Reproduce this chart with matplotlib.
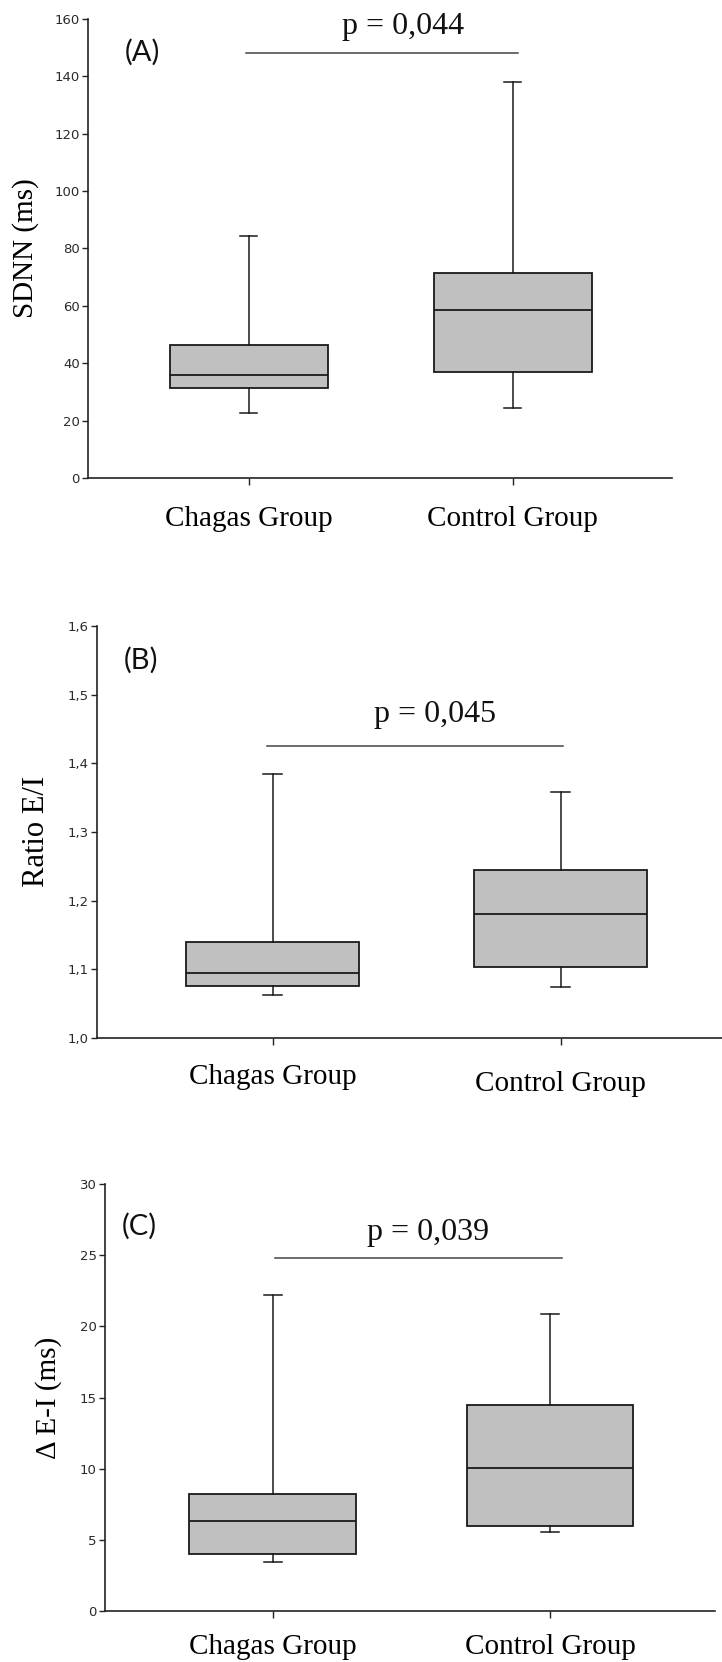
import matplotlib
matplotlib.use("Agg")
import matplotlib.pyplot as plt
from matplotlib.ticker import FuncFormatter, MultipleLocator

groups = ["Chagas Group", "Control Group"]

# (A) SDNN
sdnn_lo = [22.6, 24.3]
sdnn_q1 = [31.5, 36.9]
sdnn_med = [35.9, 58.5]
sdnn_q3 = [46.4, 71.6]
sdnn_hi = [84.4, 137.9]

# (B) ratio E/I
ratio_lo = [1.063, 1.074]
ratio_q1 = [1.076, 1.104]
ratio_med = [1.095, 1.180]
ratio_q3 = [1.139, 1.245]
ratio_hi = [1.384, 1.358]

# (C) delta E-I
delta_lo = [3.45, 5.56]
delta_q1 = [4.03, 6.02]
delta_med = [6.37, 10.04]
delta_q3 = [8.26, 14.5]
delta_hi = [22.2, 20.87]

p_texts = ["p = 0,044", "p = 0,045", "p = 0,039"]
panel_tags = ["(A)", "(B)", "(C)"]
ylabels = ["SDNN (ms)", "Ratio E/I", "\u0394 E-I (ms)"]

SERIF = "Liberation Serif"
DARK = "#1a1a1a"

fig = plt.figure(figsize=(7.22, 16.62), dpi=100)


def draw_panel(rect, lo, q1, med, q3, hi, ylim, ystep, xlim, fmt,
               tag, tag_xy, ptxt, p_xy, line_x, line_y, ylab, ylab_x, ylab_size, xpad):
    ax = fig.add_axes(rect)
    stats = []
    for i in range(len(groups)):
        stats.append({"whislo": lo[i], "q1": q1[i], "med": med[i],
                      "q3": q3[i], "whishi": hi[i], "fliers": []})
    ax.bxp(stats, positions=[1, 2], widths=0.6, patch_artist=True,
           capwidths=0.065, showfliers=False,
           boxprops=dict(facecolor="#c0c0c0", edgecolor=DARK, linewidth=1.3),
           medianprops=dict(color=DARK, linewidth=1.3),
           whiskerprops=dict(color=DARK, linewidth=1.1),
           capprops=dict(color=DARK, linewidth=1.1))
    ax.set_xlim(*xlim)
    ax.set_ylim(*ylim)
    ax.yaxis.set_major_locator(MultipleLocator(ystep))
    ax.yaxis.set_major_formatter(FuncFormatter(fmt))
    ax.set_xticks([1, 2])
    ax.set_xticklabels(groups, fontfamily=SERIF, fontsize=21)
    for s in ["top", "right"]:
        ax.spines[s].set_visible(False)
    for s in ["left", "bottom"]:
        ax.spines[s].set_linewidth(1.2)
        ax.spines[s].set_color("#222222")
    ax.tick_params(axis="y", direction="out", length=4, width=1.0,
                   labelsize=9.5, labelcolor="#2a2a2a", color="#222222", pad=2)
    ax.tick_params(axis="x", direction="out", length=5, width=1.0,
                   color="#222222", pad=xpad)
    ax.set_ylabel(ylab, fontfamily=SERIF, fontsize=ylab_size, va="center")
    ax.yaxis.set_label_coords(ylab_x, 0.5)
    ax.text(tag_xy[0], tag_xy[1], tag, fontfamily="Lato", fontsize=21,
            ha="center", va="center", color="#111111")
    ax.text(p_xy[0], p_xy[1], ptxt, fontfamily=SERIF, fontsize=23,
            ha="center", va="center", color="#111111")
    ax.plot(line_x, [line_y, line_y], color="#444444", linewidth=1.1, clip_on=False)
    return ax


draw_panel([0.1219, 0.7124, 0.8089, 0.2762],
           sdnn_lo, sdnn_q1, sdnn_med, sdnn_q3, sdnn_hi,
           (0, 160), 20, (0.391, 2.603), lambda v, p: f"{v:.0f}",
           panel_tags[0], (0.596, 148.5), p_texts[0], (1.584, 157.5),
           [0.99, 2.02], 148.0, ylabels[0], -0.107, 21, 15)

axB = draw_panel([0.1339, 0.3755, 0.8661, 0.2479],
                 ratio_lo, ratio_q1, ratio_med, ratio_q3, ratio_hi,
                 (1.0, 1.6), 0.1, (0.390, 2.559), lambda v, p: f"{v:.1f}".replace(".", ","),
                 panel_tags[1], (0.543, 1.550), p_texts[1], (1.564, 1.471),
                 [0.981, 2.006], 1.4248, ylabels[1], -0.0958, 22, 14)
# the second label sits a little lower in the original figure
import matplotlib.transforms as mtransforms
lbl = axB.get_xticklabels()[1]
lbl.set_transform(lbl.get_transform() + mtransforms.ScaledTranslation(0, -0.07, fig.dpi_scale_trans))

draw_panel([0.1454, 0.0304, 0.8449, 0.2573],
           delta_lo, delta_q1, delta_med, delta_q3, delta_hi,
           (0, 30), 5, (0.396, 2.594), lambda v, p: f"{v:.0f}",
           panel_tags[2], (0.518, 27.0), p_texts[2], (1.560, 26.6),
           [1.01, 2.041], 24.77, ylabels[2], -0.093, 21, 11)

fig.savefig("out.png", dpi=100, facecolor="white")
